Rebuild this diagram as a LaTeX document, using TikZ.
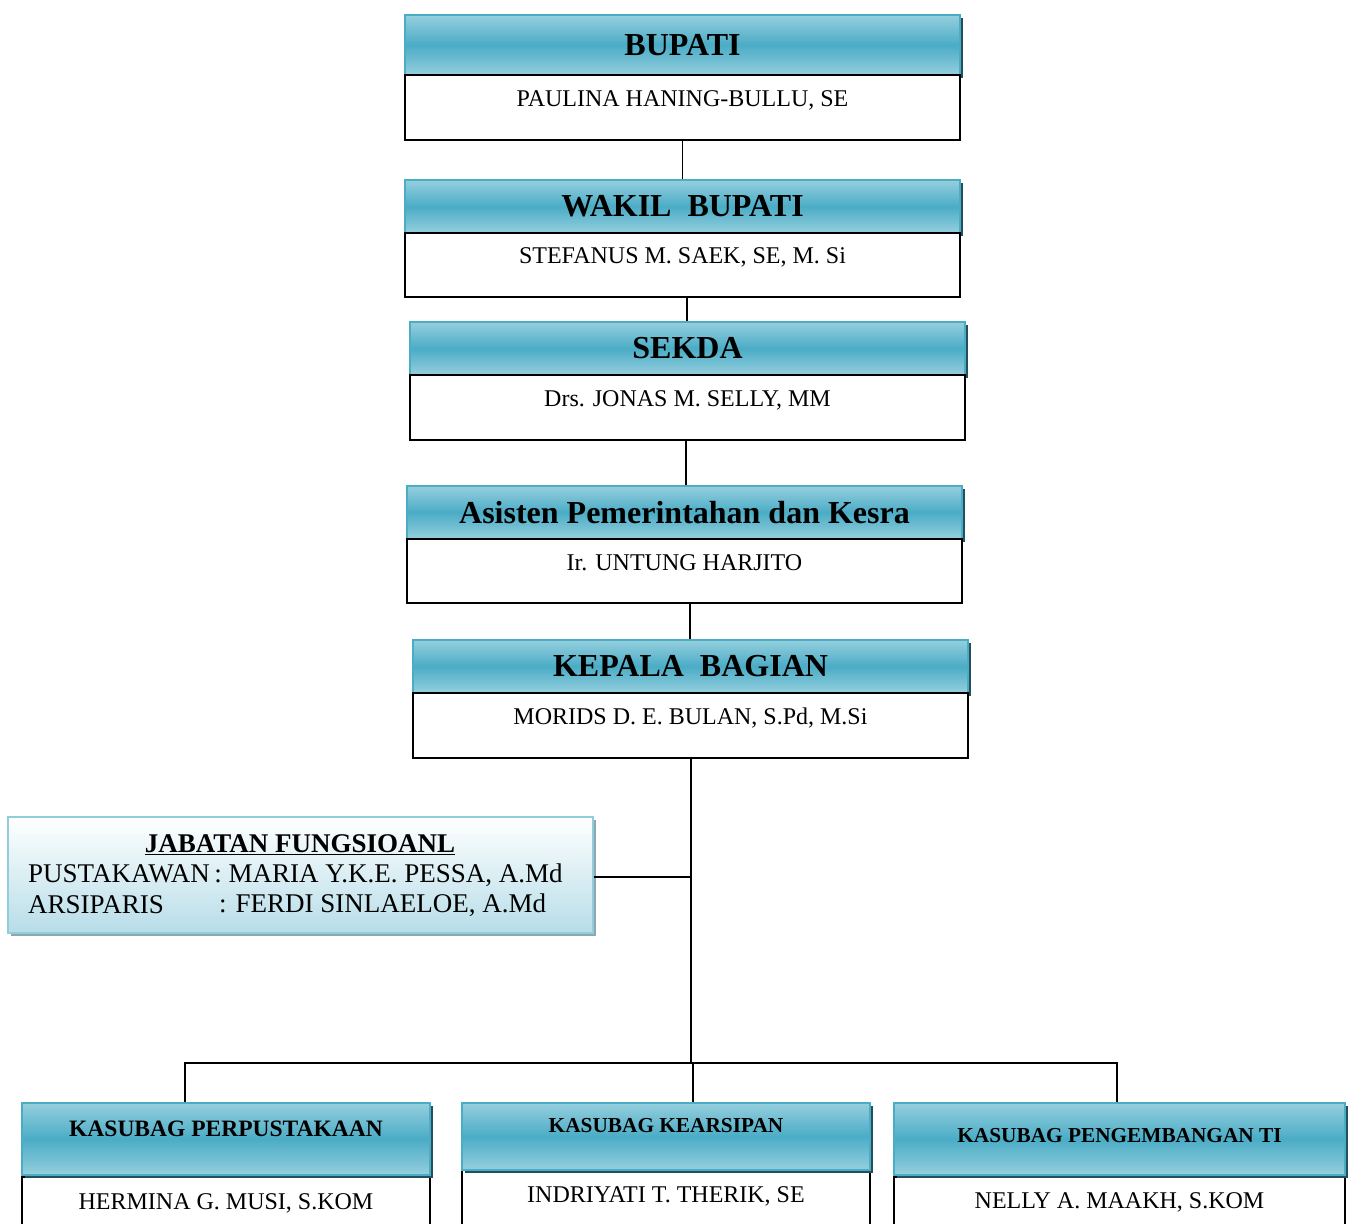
\documentclass[tikz,border=0pt]{standalone}
\usepackage{fontspec}
\setmainfont{Liberation Serif}
\usetikzlibrary{shadows}
\definecolor{hmid}{HTML}{4BACC6}
\definecolor{hlight}{HTML}{95CFDE}
\definecolor{hshadow}{HTML}{23505C}
\definecolor{jbot}{HTML}{B7DDE8}
\definecolor{jborder}{HTML}{93CDDD}
\definecolor{jshadow}{HTML}{8FA7AF}
\tikzset{
  hdr/.style={draw=hmid, line width=1.5pt, top color=hlight, bottom color=hlight, middle color=hmid,
    inner sep=0pt, font=\bfseries,
    drop shadow={shadow xshift=3pt, shadow yshift=-3pt, fill=hshadow, opacity=1}},
  namebox/.style={draw=black, line width=1.3pt, fill=white, inner sep=0pt},
  nametxt/.style={inner sep=0pt, font=\fontsize{24}{28}\selectfont},
  jftxt/.style={inner sep=0pt, font=\fontsize{27}{30}\selectfont},
  conn/.style={draw=black, line width=1.5pt},
}
\begin{document}
\begin{tikzpicture}[x=1pt,y=-1pt]
\clip (0,0) rectangle (1351,1223);
\fill[white] (0,0) rectangle (1351,1223);
% Box 1
\node[hdr, minimum width=555pt, minimum height=60pt, font=\bfseries\fontsize{32}{36}\selectfont] (h1) at (682.5,45) {BUPATI};
\node[namebox, minimum width=555pt, minimum height=65pt] (n1) at (682.5,107.5) {};
\node[nametxt] (t1) at (682.5,100) {PAULINA HANING-BULLU, SE};
% Box 2
\node[hdr, minimum width=555pt, minimum height=53pt, font=\bfseries\fontsize{32}{36}\selectfont] (h2) at (682.5,206.5) {WAKIL\ \ BUPATI};
\node[namebox, minimum width=555pt, minimum height=64pt] (n2) at (682.5,265) {};
\node[nametxt] (t2) at (682.5,257) {STEFANUS M. SAEK, SE, M. Si};
% Box 3
\node[hdr, minimum width=555pt, minimum height=53pt, font=\bfseries\fontsize{32}{36}\selectfont] (h3) at (687.5,348.5) {SEKDA};
\node[namebox, minimum width=555pt, minimum height=65pt] (n3) at (687.5,407.5) {};
\node[nametxt] (t3) at (687.5,400) {Drs. JONAS M. SELLY, MM};
% Box 4
\node[hdr, minimum width=555pt, minimum height=53pt, font=\bfseries\fontsize{32}{36}\selectfont] (h4) at (684.5,512.5) {Asisten Pemerintahan dan Kesra};
\node[namebox, minimum width=555pt, minimum height=64pt] (n4) at (684.5,571) {};
\node[nametxt] (t4) at (684.5,563) {Ir. UNTUNG HARJITO};
% Box 5
\node[hdr, minimum width=555pt, minimum height=53pt, font=\bfseries\fontsize{32}{36}\selectfont] (h5) at (690.5,666.5) {KEPALA\ \ BAGIAN};
\node[namebox, minimum width=555pt, minimum height=65pt] (n5) at (690.5,725.5) {};
\node[nametxt] (t5) at (690.5,718) {MORIDS D. E. BULAN, S.Pd, M.Si};
% Jabatan fungsional
\node[draw=jborder, line width=1.5pt, top color=white, bottom color=jbot, minimum width=585pt, minimum height=116pt, inner sep=0pt,
  drop shadow={shadow xshift=3pt, shadow yshift=-3pt, fill=jshadow, opacity=1}] (jf) at (300.5,875) {};
\node[jftxt, font=\bfseries\fontsize{27}{30}\selectfont] (jft) at (300,845) {\underline{JABATAN FUNGSIOANL}};
\node[jftxt, anchor=west] (jf1) at (28,875) {PUSTAKAWAN\,: MARIA Y.K.E. PESSA, A.Md};
\node[jftxt, anchor=west] (jf2) at (28,905) {ARSIPARIS};
\node[jftxt, anchor=west] (jf3) at (219,905) {: FERDI SINLAELOE, A.Md};
% Bottom boxes
\node[namebox, minimum width=408pt, minimum height=70pt] (nA) at (226,1212) {};
\node[hdr, minimum width=408pt, minimum height=72pt] (hA) at (226,1139) {};
\node[inner sep=0pt, font=\bfseries\fontsize{23.5}{26}\selectfont] (tA) at (226,1129) {KASUBAG PERPUSTAKAAN};
\node[nametxt] (sA) at (226,1203) {HERMINA G. MUSI, S.KOM};
\node[namebox, minimum width=408pt, minimum height=70pt] (nB) at (666,1205) {};
\node[hdr, minimum width=408pt, minimum height=67pt] (hB) at (666,1136.5) {};
\node[inner sep=0pt, font=\bfseries\fontsize{21.3}{24}\selectfont] (tB) at (666,1126) {KASUBAG KEARSIPAN};
\node[nametxt] (sB) at (666,1196) {INDRIYATI T. THERIK, SE};
\node[namebox, minimum width=451pt, minimum height=70pt] (nC) at (1119.5,1212) {};
\node[hdr, minimum width=451pt, minimum height=72pt] (hC) at (1119.5,1139) {};
\node[inner sep=0pt, font=\bfseries\fontsize{21.3}{24}\selectfont] (tC) at (1119.5,1136) {KASUBAG PENGEMBANGAN TI};
\node[nametxt] (sC) at (1119.5,1202) {NELLY A. MAAKH, S.KOM};
% Connectors
\coordinate (jct) at (691,877);
\coordinate (bus) at (691,1063);
\draw[conn] (n1.south) -- (h1.north |- h2.north);
\draw[conn] (687,0 |- n2.south) -- (687,0 |- h3.north);
\draw[conn] (686,0 |- n3.south) -- (686,0 |- h4.north);
\draw[conn] (690,0 |- n4.south) -- (690,0 |- h5.north);
\draw[conn] (691,0 |- n5.south) -- (bus);
\draw[conn] (jf.east |- jct) -- (jct);
\draw[conn] (185,0 |- hA.north) -- (185,0 |- bus) -- (1117,0 |- bus) -- (1117,0 |- hC.north);
\draw[conn] (693,0 |- bus) -- (693,0 |- hB.north);
\end{tikzpicture}
\end{document}
